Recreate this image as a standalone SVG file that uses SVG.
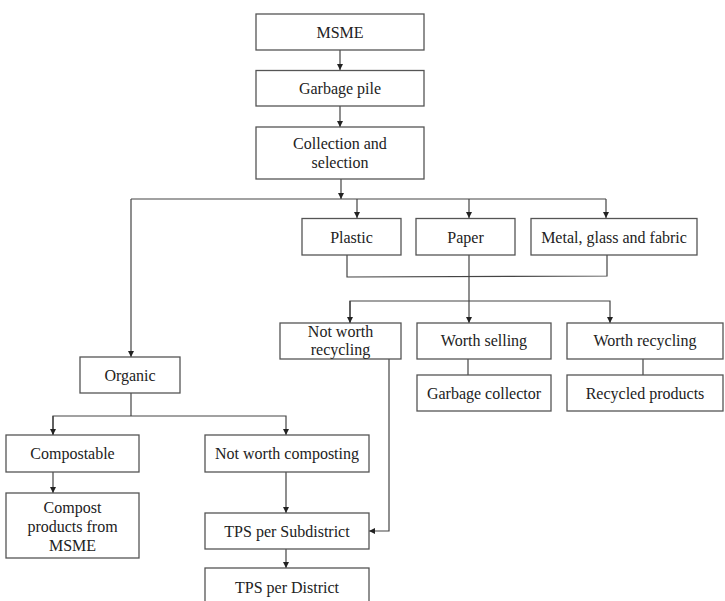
<svg xmlns="http://www.w3.org/2000/svg" width="725" height="601" viewBox="0 0 725 601">
<style>
.box{fill:#fff;stroke:#555;stroke-width:1.3}
.t{font-family:"Liberation Serif","Times New Roman",serif;font-size:16px;fill:#222;text-anchor:middle}
.c{fill:none;stroke:#444;stroke-width:1.2}
</style>
<defs>
<marker id="ah" markerUnits="userSpaceOnUse" markerWidth="8" markerHeight="8" refX="6" refY="3" orient="auto">
<path d="M0,0 L6,3 L0,6 z" fill="#222"/>
</marker>
</defs>
<rect width="725" height="601" fill="#fff"/>
<g id="connectors">
<line class="c" x1="340" y1="50" x2="340" y2="70" marker-end="url(#ah)"/>
<line class="c" x1="340" y1="106" x2="340" y2="127" marker-end="url(#ah)"/>
<line class="c" x1="341" y1="179" x2="341" y2="199" marker-end="url(#ah)"/>
<polyline class="c" points="131,199 606,199"/>
<line class="c" x1="131" y1="199" x2="131" y2="357" marker-end="url(#ah)"/>
<line class="c" x1="357" y1="199" x2="357" y2="218" marker-end="url(#ah)"/>
<line class="c" x1="469" y1="199" x2="469" y2="218" marker-end="url(#ah)"/>
<line class="c" x1="606" y1="199" x2="606" y2="218" marker-end="url(#ah)"/>
<polyline class="c" points="347,255 347,277 607,276 607,255"/>
<line class="c" x1="469" y1="255" x2="469" y2="323" marker-end="url(#ah)"/>
<polyline class="c" points="350,323 350,301 610,301 610,323" marker-end="url(#ah)"/>
<line class="c" x1="350" y1="301" x2="350" y2="323" marker-end="url(#ah)"/>
<line class="c" x1="468" y1="359" x2="468" y2="375"/>
<line class="c" x1="643" y1="359" x2="643" y2="375"/>
<polyline class="c" points="389,359 389,531 369,531" marker-end="url(#ah)"/>
<line class="c" x1="131" y1="393" x2="131" y2="416"/>
<polyline class="c" points="53,435 53,416 286,416 286,435" marker-end="url(#ah)"/>
<line class="c" x1="53" y1="416" x2="53" y2="435" marker-end="url(#ah)"/>
<line class="c" x1="53" y1="472" x2="53" y2="493" marker-end="url(#ah)"/>
<line class="c" x1="286" y1="472" x2="286" y2="513" marker-end="url(#ah)"/>
<line class="c" x1="286" y1="549" x2="286" y2="568" marker-end="url(#ah)"/>
</g>
<g id="msme"><rect class="box" x="256" y="14" width="168" height="36"/><text class="t" x="340" y="37.5">MSME</text></g>
<g id="garbage-pile"><rect class="box" x="256" y="70.5" width="168" height="35.5"/><text class="t" x="340" y="93.5">Garbage pile</text></g>
<g id="collection"><rect class="box" x="256" y="127" width="168" height="52"/><text class="t" x="340" y="149">Collection and</text><text class="t" x="340" y="167.5">selection</text></g>
<g id="plastic"><rect class="box" x="302" y="218.5" width="99" height="36.5"/><text class="t" x="351.5" y="242.5">Plastic</text></g>
<g id="paper"><rect class="box" x="416" y="218.5" width="99" height="36.5"/><text class="t" x="465.5" y="242.5">Paper</text></g>
<g id="metal"><rect class="box" x="531" y="218.5" width="166" height="36.5"/><text class="t" x="614" y="242.5">Metal, glass and fabric</text></g>
<g id="not-worth-recycling"><rect class="box" x="280" y="323" width="121" height="36"/><text class="t" x="340.5" y="337">Not worth</text><text class="t" x="340.5" y="355">recycling</text></g>
<g id="worth-selling"><rect class="box" x="417" y="323" width="134" height="36"/><text class="t" x="484" y="346">Worth selling</text></g>
<g id="worth-recycling"><rect class="box" x="567" y="323" width="156" height="36"/><text class="t" x="645" y="346">Worth recycling</text></g>
<g id="garbage-collector"><rect class="box" x="417" y="375" width="134" height="36"/><text class="t" x="484" y="398.5">Garbage collector</text></g>
<g id="recycled-products"><rect class="box" x="567" y="375" width="156" height="36"/><text class="t" x="645" y="398.5">Recycled products</text></g>
<g id="organic"><rect class="box" x="80" y="357" width="100" height="36"/><text class="t" x="130" y="380.5">Organic</text></g>
<g id="compostable"><rect class="box" x="6" y="435" width="133" height="37"/><text class="t" x="72.5" y="458.5">Compostable</text></g>
<g id="not-worth-composting"><rect class="box" x="205" y="435" width="164" height="37"/><text class="t" x="287" y="458.5">Not worth composting</text></g>
<g id="compost-products"><rect class="box" x="6" y="493" width="133" height="65"/><text class="t" x="72.5" y="513">Compost</text><text class="t" x="72.5" y="532">products from</text><text class="t" x="72.5" y="551">MSME</text></g>
<g id="tps-subdistrict"><rect class="box" x="205" y="513" width="164" height="36"/><text class="t" x="287" y="536.5">TPS per Subdistrict</text></g>
<g id="tps-district"><rect class="box" x="205" y="568" width="164" height="40"/><text class="t" x="287" y="593">TPS per District</text></g>
</svg>
